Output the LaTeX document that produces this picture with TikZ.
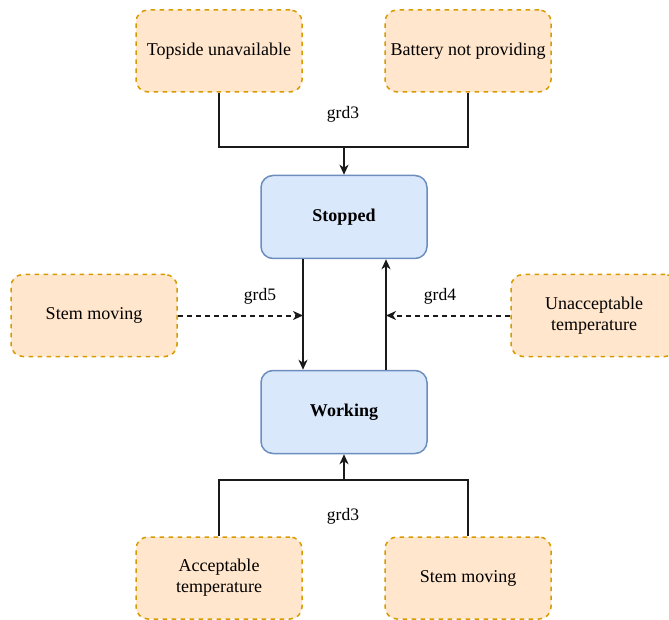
\documentclass[tikz,border=0pt]{standalone}
\usepackage{fontspec}
\setmainfont{Liberation Serif}
\usetikzlibrary{arrows.meta}
\definecolor{condfill}{HTML}{FFE6CC}
\definecolor{condline}{HTML}{D79B00}
\definecolor{statefill}{HTML}{DAE8FC}
\definecolor{stateline}{HTML}{6C8EBF}
\definecolor{wire}{HTML}{1A1A1A}
\begin{document}
\begin{tikzpicture}[x=1pt,y=-1pt,
  cond/.style={draw=condline, fill=condfill, line width=1.5pt,
    dash pattern=on 4.5pt off 4.5pt, rounded corners=12pt,
    minimum width=166pt, minimum height=82pt, align=center,
    inner sep=0pt, font=\fontsize{18}{21}\selectfont},
  state/.style={draw=stateline, fill=statefill, line width=1.5pt,
    rounded corners=12pt, minimum width=166pt, minimum height=83pt,
    inner sep=0pt, font=\bfseries\fontsize{18}{21}\selectfont},
  wireline/.style={draw=wire, line width=1.8pt},
  flow/.style={wireline, -{Stealth[length=10pt,width=9pt,inset=3pt]}},
  dflow/.style={flow, line width=2pt, dash pattern=on 5pt off 4pt},
  guard/.style={font=\fontsize{17.5}{20}\selectfont, inner sep=0pt}
]
\useasboundingbox (0,0) rectangle (669,620);

% states
\node[state] (stopped) at (344,217) {Stopped};
\node[state] (working) at (344,412) {Working};

% conditions
\node[cond] (topside) at (219,51) {Topside unavailable};
\node[cond] (battery) at (468,51) {Battery not providing};
\node[cond] (stemL) at (94,315.5) {Stem moving};
\node[cond] (unacc) at (594,315.5) {Unacceptable\\temperature};
\node[cond] (acc) at (219,578) {Acceptable\\temperature};
\node[cond] (stemB) at (468,578) {Stem moving};

% junctions and transition lanes
\coordinate (jtop) at (344,147);
\coordinate (jbot) at (344,480);
\coordinate (sdown) at ([xshift=-41pt]stopped.south);
\coordinate (sup) at ([xshift=42pt]stopped.south);
\coordinate (wdown) at ([xshift=-41pt]working.north);
\coordinate (wup) at ([xshift=42pt]working.north);

% top guard
\draw[wireline] (topside.south) |- (jtop);
\draw[wireline] (battery.south) |- (jtop);
\draw[flow] (jtop) -- (stopped.north);

% transitions between states
\draw[flow] (sdown) -- (wdown);
\draw[flow] (wup) -- (sup);

% dashed side guards
\draw[dflow] (stemL.east) -- (stemL.east -| sdown);
\draw[dflow] (unacc.west) -- (unacc.west -| sup);

% bottom guard
\draw[wireline] (acc.north) |- (jbot);
\draw[wireline] (stemB.north) |- (jbot);
\draw[flow] (jbot) -- (working.south);

% guard labels
\node[guard] (g3a) at (343,114) {grd3};
\node[guard] (g5) at (260,296) {grd5};
\node[guard] (g4) at (440,296) {grd4};
\node[guard] (g3b) at (343,516) {grd3};
\end{tikzpicture}
\end{document}
